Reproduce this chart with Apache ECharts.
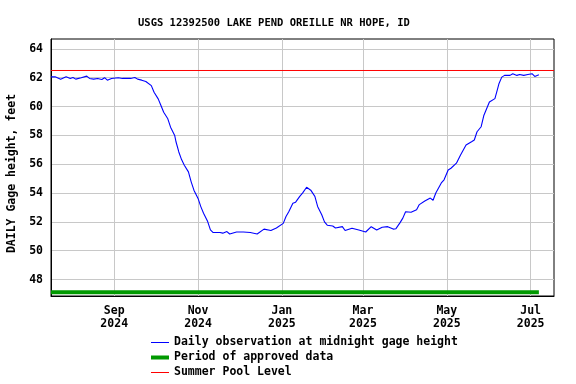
<!DOCTYPE html>
<html>
<head>
<meta charset="utf-8">
<script src="https://cdn.jsdelivr.net/npm/echarts@6/dist/echarts.min.js"></script>
<style>html,body{margin:0;padding:0;background:#fff;}#c{width:576px;height:384px;}</style>
</head>
<body>
<div id="c"></div>
<script>
var titleText = 'USGS 12392500 LAKE PEND OREILLE NR HOPE, ID';
var yAxisName = 'DAILY Gage height, feet';
var seriesNames = ['Daily observation at midnight gage height', 'Period of approved data', 'Summer Pool Level'];

var obsDates = ['2024-07-17','2024-07-20','2024-07-21','2024-07-24','2024-07-28','2024-07-31','2024-08-02','2024-08-04','2024-08-08','2024-08-12','2024-08-14','2024-08-17','2024-08-20','2024-08-23','2024-08-25','2024-08-27','2024-08-30','2024-09-04','2024-09-05','2024-09-07','2024-09-13','2024-09-16','2024-09-18','2024-09-21','2024-09-24','2024-09-28','2024-09-30','2024-10-03','2024-10-05','2024-10-07','2024-10-10','2024-10-12','2024-10-15','2024-10-16','2024-10-18','2024-10-20','2024-10-22','2024-10-25','2024-10-27','2024-10-29','2024-11-01','2024-11-03','2024-11-05','2024-11-08','2024-11-10','2024-11-12','2024-11-17','2024-11-19','2024-11-22','2024-11-24','2024-11-29','2024-12-04','2024-12-09','2024-12-14','2024-12-19','2024-12-24','2024-12-28','2025-01-02','2025-01-04','2025-01-06','2025-01-09','2025-01-11','2025-01-14','2025-01-16','2025-01-19','2025-01-20','2025-01-22','2025-01-25','2025-01-27','2025-01-30','2025-02-01','2025-02-03','2025-02-07','2025-02-09','2025-02-14','2025-02-16','2025-02-21','2025-02-26','2025-03-03','2025-03-07','2025-03-11','2025-03-15','2025-03-19','2025-03-23','2025-03-25','2025-03-28','2025-03-30','2025-04-01','2025-04-05','2025-04-09','2025-04-11','2025-04-15','2025-04-19','2025-04-21','2025-04-23','2025-04-27','2025-04-29','2025-05-02','2025-05-04','2025-05-08','2025-05-11','2025-05-15','2025-05-19','2025-05-21','2025-05-23','2025-05-26','2025-05-28','2025-06-01','2025-06-05','2025-06-07','2025-06-08','2025-06-10','2025-06-12','2025-06-16','2025-06-18','2025-06-21','2025-06-23','2025-06-26','2025-06-29','2025-07-02','2025-07-04','2025-07-05','2025-07-07'];
var obsValues = [62.06,62.06,62.02,61.90,62.06,61.95,62.02,61.90,62.00,62.11,61.95,61.90,61.95,61.88,62.00,61.83,61.95,62.00,62.06,61.95,61.95,62.02,61.90,61.83,61.74,61.45,60.99,60.53,60.07,59.60,59.15,58.57,58.00,57.54,56.85,56.32,55.93,55.47,54.78,54.20,53.63,53.06,52.60,52.02,51.45,51.26,51.26,51.22,51.33,51.16,51.30,51.30,51.26,51.16,51.50,51.40,51.58,51.90,52.37,52.70,53.30,53.37,53.77,54.00,54.40,54.50,54.20,53.77,53.07,52.50,52.00,51.77,51.72,51.58,51.67,51.40,51.56,51.44,51.30,51.67,51.44,51.63,51.67,51.50,51.53,51.95,52.26,52.70,52.67,52.84,53.20,53.45,53.65,53.50,54.00,54.70,54.92,55.60,55.72,56.07,56.64,57.33,57.56,57.68,58.25,58.60,59.40,60.32,60.55,61.24,61.60,62.04,62.16,62.16,62.28,62.16,62.22,62.16,62.22,62.28,62.09,62.20,62.20];

var approvedDates = ['2024-07-17', '2025-07-07'];
var approvedLevel = 47.12;
var poolDates = ['2024-07-17', '2025-07-18'];
var poolLevel = 62.5;

var xMinDate = '2024-07-17';
var xMaxDate = '2025-07-18';
var xTickDates = ['2024-09-01','2024-11-01','2025-01-01','2025-03-01','2025-05-01','2025-07-01'];
var monthNames = ['Jan','Feb','Mar','Apr','May','Jun','Jul','Aug','Sep','Oct','Nov','Dec'];
var yMin = 46.861, yMax = 64.684;
var yTicks = [48, 50, 52, 54, 56, 58, 60, 62, 64];

function ts(s) { var p = s.split('-'); return Date.UTC(+p[0], +p[1] - 1, +p[2]); }

var FONT = 'DejaVu Sans Mono';
var chart = echarts.init(document.getElementById('c'), null, { renderer: 'canvas' });
var xTicks = xTickDates.map(ts);
var legendWidths = [1, 4, 1];
var legendColors = ['#0000ff', '#009900', '#ff0000'];

chart.setOption({
  animation: false,
  backgroundColor: '#ffffff',
  title: {
    text: titleText, left: 133, top: 13,
    textStyle: { fontFamily: FONT, fontWeight: 'bold', fontSize: 10.5, color: '#000' }
  },
  grid: { left: 51, right: 22, top: 39, bottom: 88, containLabel: false, outerBoundsMode: 'none', show: true, borderColor: '#000', borderWidth: 1, backgroundColor: 'transparent' },
  legend: {
    orient: 'vertical', left: 149, top: 336.5, padding: 0, itemWidth: 18, itemHeight: 12, itemGap: 3,
    textStyle: { fontFamily: FONT, fontWeight: 'bold', fontSize: 11.5, color: '#000' },
    data: seriesNames.map(function (n, i) {
      return { name: n, itemStyle: { opacity: 0 }, lineStyle: { width: legendWidths[i], color: legendColors[i] } };
    })
  },
  xAxis: {
    type: 'value', min: ts(xMinDate), max: ts(xMaxDate),
    axisLine: { show: true, onZero: false, lineStyle: { color: '#000', width: 1 } },
    axisTick: { show: false, customValues: xTicks },
    splitLine: { show: true, lineStyle: { color: '#c8c8c8', width: 1 } },
    axisLabel: {
      customValues: xTicks, margin: 9, lineHeight: 13,
      fontFamily: FONT, fontWeight: 'bold', fontSize: 11.5, color: '#000',
      formatter: function (v) { var d = new Date(v); return monthNames[d.getUTCMonth()] + '\n' + d.getUTCFullYear(); }
    }
  },
  yAxis: {
    type: 'value', min: yMin, max: yMax,
    name: yAxisName, nameLocation: 'middle', nameGap: 33,
    nameTextStyle: { fontFamily: FONT, fontWeight: 'bold', fontSize: 11.5, color: '#000', padding: [0, 12, 0, 0] },
    axisLine: { show: true, lineStyle: { color: '#000', width: 1 } },
    axisTick: { show: false, customValues: yTicks },
    splitLine: { show: true, lineStyle: { color: '#c8c8c8', width: 1 } },
    axisLabel: {
      customValues: yTicks, margin: 8,
      fontFamily: FONT, fontWeight: 'bold', fontSize: 11.5, color: '#000'
    }
  },
  series: [
    {
      name: seriesNames[0], type: 'line', symbol: 'none', z: 3,
      lineStyle: { color: '#0000ff', width: 1.1 }, itemStyle: { color: '#0000ff' },
      data: obsDates.map(function (d, i) { return [ts(d), obsValues[i]]; })
    },
    {
      name: seriesNames[1], type: 'line', symbol: 'none', z: 2,
      lineStyle: { color: '#009900', width: 4 }, itemStyle: { color: '#009900' },
      data: approvedDates.map(function (d) { return [ts(d), approvedLevel]; })
    },
    {
      name: seriesNames[2], type: 'line', symbol: 'none', z: 2,
      lineStyle: { color: '#ff0000', width: 1 }, itemStyle: { color: '#ff0000' },
      data: poolDates.map(function (d) { return [ts(d), poolLevel]; })
    }
  ]
});
</script>
</body>
</html>
